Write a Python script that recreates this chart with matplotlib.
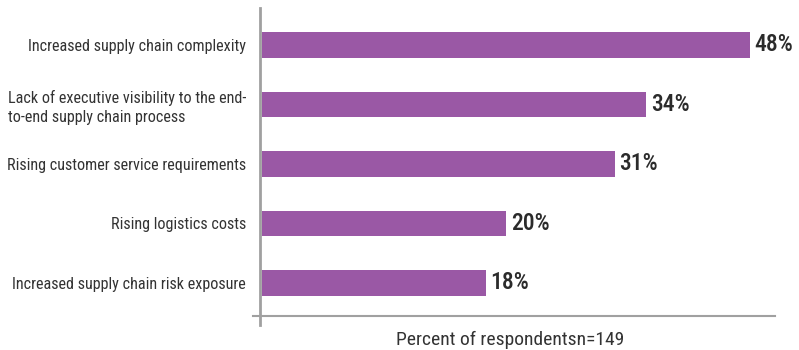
import matplotlib
matplotlib.use("Agg")
from matplotlib import pyplot as plt

categories = [
    "Increased supply chain complexity",
    "Lack of executive visibility to the end-\nto-end supply chain process",
    "Rising customer service requirements",
    "Rising logistics costs",
    "Increased supply chain risk exposure",
]
# bar lengths as drawn in the source chart (not exactly proportional to the labels)
bar_lengths = [48, 37.8, 34.7, 24.0, 22.0]
value_labels = ["48%", "34%", "31%", "20%", "18%"]

bar_color = "#9a58a5"
text_color = "#2b2b2b"
axis_color = "#a0a0a0"

plt.rcParams['font.family'] = ['Roboto Condensed', 'Archivo Narrow', 'DejaVu Sans']

fig = plt.figure(figsize=(7.99, 3.5), dpi=100)
ax = fig.add_axes([260 / 799, 1 - 316 / 350, 515 / 799, 308 / 350])

ypos = list(range(len(categories)))
ax.barh(ypos, bar_lengths, height=0.43, color=bar_color, left=0)
ax.set_ylim(4.555, -0.62)
ax.set_xlim(-0.2, 50.5)

for y, v, lab in zip(ypos, bar_lengths, value_labels):
    ax.text(v + 0.5, y, lab, va="center", ha="left", fontsize=17,
            color=text_color, fontweight="medium")

ax.set_yticks(ypos)
ax.set_yticklabels(categories, fontsize=11.6, color="#333333", linespacing=1.3)
for t in ax.get_yticklabels():
    t.set_multialignment("left")
ax.tick_params(axis="y", length=0, pad=10)
ax.set_xticks([])

for s in ax.spines.values():
    s.set_visible(False)

# axis lines, drawn a little past each other like the original
ax.plot([-7 / 515, 1], [0, 0], transform=ax.transAxes, color=axis_color,
        lw=1.5, clip_on=False)
ax.plot([0, 0], [-9 / 308, 1], transform=ax.transAxes, color=axis_color,
        lw=2, clip_on=False)

fig.text(510 / 799, 1 - 340 / 350, "Percent of respondentsn=149", ha="center",
         va="center", fontsize=14, color="#333333")

fig.savefig("out.png", dpi=100)
